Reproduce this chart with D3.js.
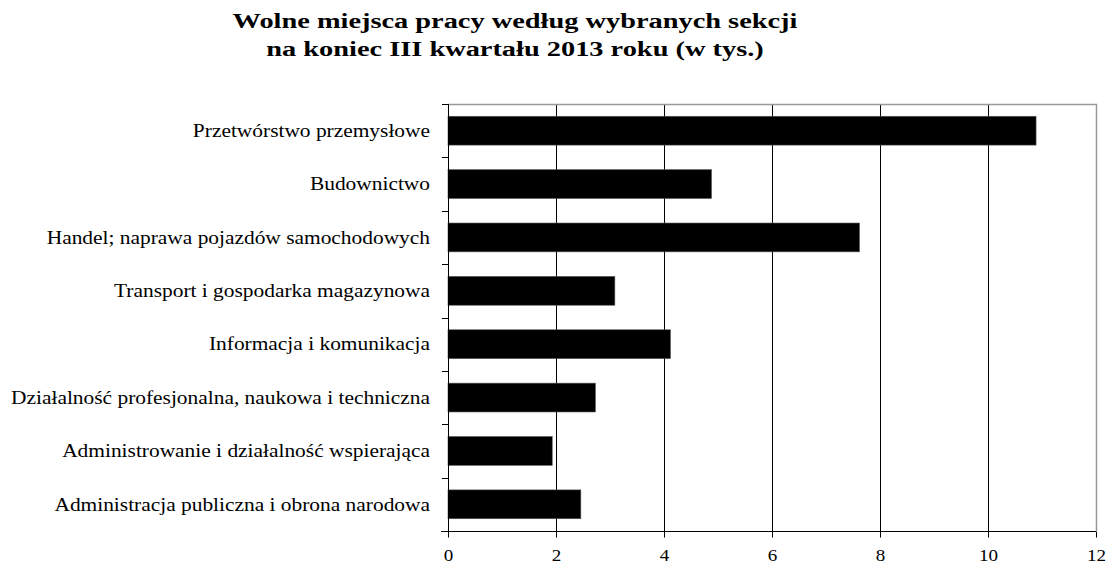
<!DOCTYPE html>
<html>
<head>
<meta charset="utf-8">
<script src="https://cdn.jsdelivr.net/npm/d3@7"></script>
<style>
  body { margin: 0; background: #fff; }
  text { font-family: "Liberation Serif", "Times New Roman", serif; fill: #000; }
</style>
</head>
<body>
<script>
const categories = [
  "Przetwórstwo przemysłowe",
  "Budownictwo",
  "Handel; naprawa pojazdów samochodowych",
  "Transport i gospodarka magazynowa",
  "Informacja i komunikacja",
  "Działalność profesjonalna, naukowa i techniczna",
  "Administrowanie i działalność wspierająca",
  "Administracja publiczna i obrona narodowa"
];
const values = [10.89, 4.88, 7.62, 3.09, 4.12, 2.73, 1.93, 2.46];
const xTicks = [0, 2, 4, 6, 8, 10, 12];
const titleLines = [
  "Wolne miejsca pracy według wybranych sekcji",
  "na koniec III kwartału 2013 roku (w tys.)"
];

const width = 1108, height = 564;
const margin = {top: 104, right: 12, bottom: 33, left: 448};
// the source picture is stretched sideways a little, so text gets a horizontal scale
const stretch = 1.19;

const svg = d3.select("body").append("svg")
    .attr("width", width)
    .attr("height", height);

const x = d3.scaleLinear().domain([0, 12]).range([margin.left, width - margin.right]);
const y = d3.scaleBand().domain(categories)
    .range([margin.top, height - margin.bottom])
    .paddingInner(0.46).paddingOuter(0.23);

// title
svg.append("g").selectAll("text")
  .data(titleLines)
  .join("text")
    .attr("transform", (d, i) => `translate(515,${28 + i * 28}) scale(1.29,1)`)
    .attr("text-anchor", "middle")
    .attr("font-weight", "bold")
    .attr("font-size", 22)
    .text(d => d);

// gridlines
svg.append("g").selectAll("line")
  .data(xTicks.slice(1, -1))
  .join("line")
    .attr("x1", d => Math.round(x(d)) + 0.5)
    .attr("x2", d => Math.round(x(d)) + 0.5)
    .attr("y1", margin.top)
    .attr("y2", height - margin.bottom)
    .attr("stroke", "#000");

// top and right border
svg.append("path")
    .attr("d", `M${margin.left},${margin.top + 0.5}H${width - margin.right + 0.5}V${height - margin.bottom}`)
    .attr("fill", "none")
    .attr("stroke", "#999")
    .attr("stroke-width", 1.5);

// bars
svg.append("g").selectAll("rect")
  .data(values)
  .join("rect")
    .attr("x", x(0))
    .attr("y", (d, i) => y(categories[i]))
    .attr("width", d => x(d) - x(0))
    .attr("height", y.bandwidth())
    .attr("fill", "#000")
    .attr("stroke", "#555")
    .attr("stroke-width", 0.6);

// x axis
const xAxis = svg.append("g")
    .attr("transform", `translate(0,${height - margin.bottom + 0.5})`)
    .call(d3.axisBottom(x).tickValues(xTicks).tickSize(6).tickSizeOuter(0));
xAxis.select(".domain").attr("d", `M${margin.left - 7},0H${width - margin.right}`).attr("stroke", "#000");
xAxis.selectAll(".tick line").attr("stroke", "#000");
xAxis.selectAll(".tick text")
    .attr("font-family", null)
    .attr("font-size", 16)
    .attr("y", null)
    .attr("dy", null)
    .attr("transform", `translate(0,29) scale(${stretch},1)`);

// y axis with ticks at category boundaries
const yStep = (height - margin.bottom - margin.top) / categories.length;
const yAxis = svg.append("g");
yAxis.append("line")
    .attr("x1", margin.left + 0.5).attr("x2", margin.left + 0.5)
    .attr("y1", margin.top).attr("y2", height - margin.bottom)
    .attr("stroke", "#000");
yAxis.selectAll("line.tk")
  .data(d3.range(categories.length))
  .join("line")
    .attr("class", "tk")
    .attr("x1", margin.left - 6).attr("x2", margin.left)
    .attr("y1", i => Math.round(margin.top + i * yStep) + 0.5)
    .attr("y2", i => Math.round(margin.top + i * yStep) + 0.5)
    .attr("stroke", "#000");

// category labels
svg.append("g").selectAll("text")
  .data(categories)
  .join("text")
    .attr("transform", d => `translate(${margin.left - 18},${y(d) + y.bandwidth() / 2}) scale(${stretch},1)`)
    .attr("dy", "0.35em")
    .attr("text-anchor", "end")
    .attr("font-size", 18)
    .text(d => d);
</script>
</body>
</html>
